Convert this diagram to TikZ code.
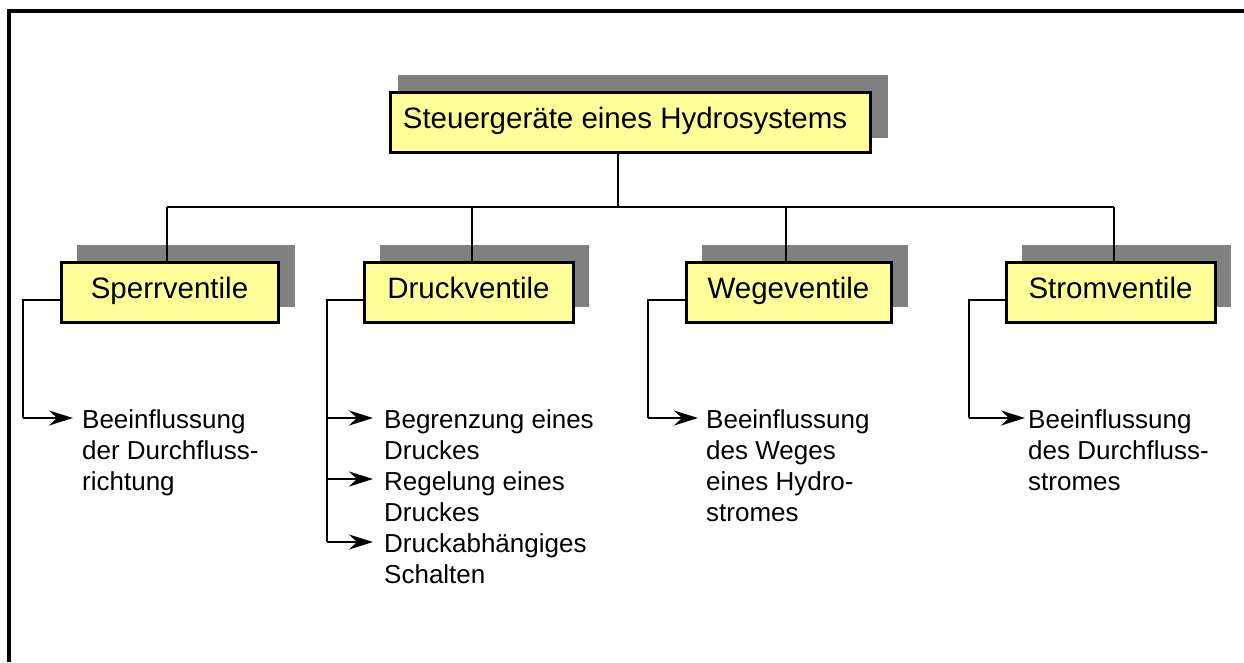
\documentclass[tikz,border=0pt]{standalone}
\usepackage{fontspec}
\setmainfont{Liberation Sans}
\usetikzlibrary{arrows.meta}
\definecolor{boxyellow}{HTML}{FFFF99}
\definecolor{shadowgray}{HTML}{808080}
\begin{document}
\begin{tikzpicture}[x=1pt,y=-1pt,
  box/.style={draw=black, line width=3pt, fill=boxyellow, inner sep=0pt, minimum height=60pt,
    text height=20pt, text depth=8pt, font=\fontsize{29.5}{34}\selectfont},
  sub/.style={anchor=north west, inner sep=0pt, align=left, font=\fontsize{26}{31}\selectfont},
  conn/.style={line width=2.5pt},
  arr/.style={line width=2.5pt, -{Stealth[length=24pt,width=15pt,inset=8pt]}},
  shadowbox/.style={fill=shadowgray}]
\useasboundingbox (0,0) rectangle (1244,662);
\fill[white] (0,0) rectangle (1244,662);
\draw[line width=3.5pt] (9,662) -- (9,11) -- (1244,11);

% shadows
\fill[shadowbox] (398,75) rectangle (888,138);
\fill[shadowbox] (77,245) rectangle (295,307);
\fill[shadowbox] (380,245) rectangle (589,307);
\fill[shadowbox] (702,245) rectangle (908,307);
\fill[shadowbox] (1022,245) rectangle (1231,307);

% boxes
\node[box, minimum width=480pt] (top) at (630,122) {Steuergeräte eines Hydrosystems\hspace*{10pt}};
\node[box, minimum width=217pt] (sperr) at (169.5,292) {Sperrventile};
\node[box, minimum width=209pt] (druck) at (468.5,292) {Druckventile};
\node[box, minimum width=205pt] (weg) at (788.5,292) {Wegeventile};
\node[box, minimum width=209pt] (strom) at (1110.5,292) {Stromventile};

% tree connectors
\coordinate (bus) at (0,207);
\draw[conn] ([xshift=-12pt]top.south) -- ([xshift=-12pt]top.south |- bus);
\draw[conn] ([xshift=-2.5pt]sperr.north |- bus) -- ([xshift=3.5pt]strom.north |- bus);
\draw[conn] ([xshift=-2.5pt]sperr.north) -- ([xshift=-2.5pt]sperr.north |- bus);
\draw[conn] ([xshift=3.5pt]druck.north) -- ([xshift=3.5pt]druck.north |- bus);
\draw[conn] ([xshift=-2.5pt]weg.north) -- ([xshift=-2.5pt]weg.north |- bus);
\draw[conn] ([xshift=3.5pt]strom.north) -- ([xshift=3.5pt]strom.north |- bus);

% sub texts
\node[sub] (s1) at (82,409) {Beeinflussung\\der Durchfluss-\\richtung};
\node[sub] (d1) at (384,409) {Begrenzung eines\\Druckes};
\node[sub] (d2) at (384,471) {Regelung eines\\Druckes};
\node[sub] (d3) at (384,533) {Druckabhängiges\\Schalten};
\node[sub] (w1) at (706,409) {Beeinflussung\\des Weges\\eines Hydro-\\stromes};
\node[sub] (t1) at (1028,409) {Beeinflussung\\des Durchfluss-\\stromes};

% Sperrventile
\coordinate (sc) at (23,418);
\draw[conn] ([yshift=-8pt]sperr.west) -| (sc);
\draw[arr] (sc) -- ([xshift=-9pt]s1.west |- sc);

% Druckventile
\coordinate (dc1) at (327,418);
\coordinate (dc2) at (327,479);
\coordinate (dc3) at (327,542);
\draw[conn] ([yshift=-8pt]druck.west) -| (dc3);
\draw[arr] (dc1) -- ([xshift=-11pt]d1.west |- dc1);
\draw[arr] (dc2) -- ([xshift=-11pt]d2.west |- dc2);
\draw[arr] (dc3) -- ([xshift=-11pt]d3.west |- dc3);

% Wegeventile
\coordinate (wc) at (648,418);
\draw[conn] ([yshift=-8pt]weg.west) -| (wc);
\draw[arr] (wc) -- ([xshift=-8pt]w1.west |- wc);

% Stromventile
\coordinate (stc) at (969,418);
\draw[conn] ([yshift=-8pt]strom.west) -| (stc);
\draw[arr] (stc) -- ([xshift=-3pt]t1.west |- stc);
\end{tikzpicture}
\end{document}
